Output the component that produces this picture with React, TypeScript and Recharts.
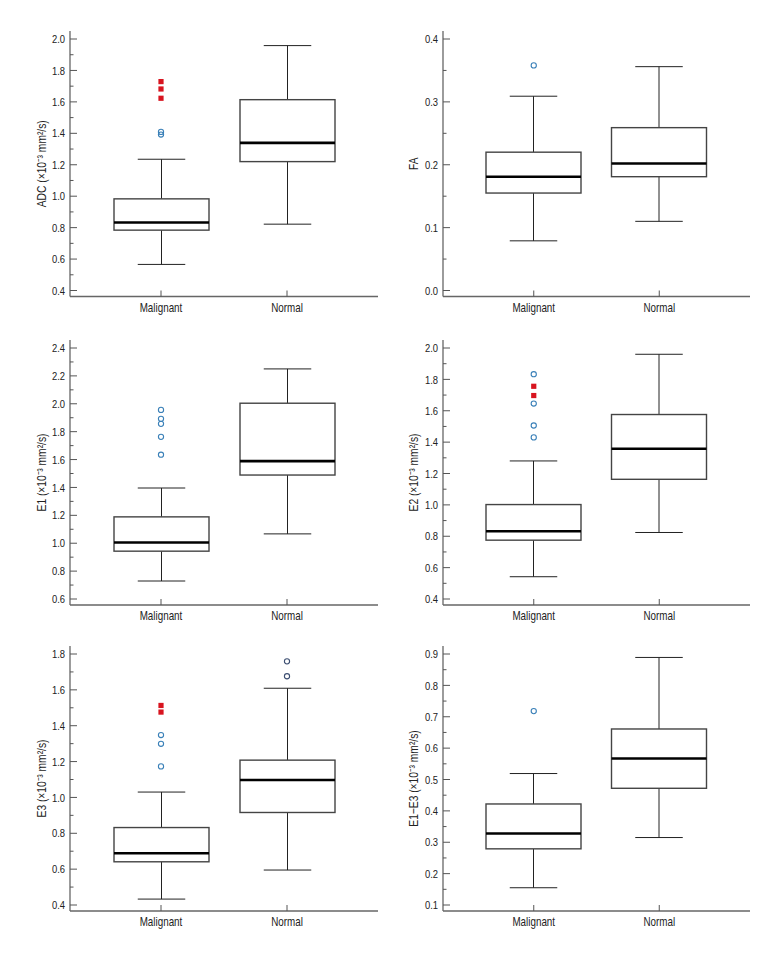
import React from 'react';
import { ComposedChart, Bar, Scatter, XAxis, YAxis } from 'recharts';

const categories = ['Malignant', 'Normal'];

// ADC
const adcMin = [0.566, 0.822];
const adcQ1 = [0.784, 1.22];
const adcMedian = [0.833, 1.339];
const adcQ3 = [0.983, 1.614];
const adcMax = [1.235, 1.958];
const adcMalignantCircles = [1.409, 1.392];
const adcMalignantSquares = [1.729, 1.682, 1.623];
const adcMajorTicks = [0.4, 0.6, 0.8, 1.0, 1.2, 1.4, 1.6, 1.8, 2.0];
const adcMinorTicks = [0.5, 0.7, 0.9, 1.1, 1.3, 1.5, 1.7, 1.9];

// FA
const faMin = [0.079, 0.11];
const faQ1 = [0.155, 0.181];
const faMedian = [0.181, 0.202];
const faQ3 = [0.22, 0.259];
const faMax = [0.309, 0.356];
const faMalignantCircles = [0.358];
const faMajorTicks = [0.0, 0.1, 0.2, 0.3, 0.4];
const faMinorTicks = [0.05, 0.15, 0.25, 0.35];

// E1
const e1Min = [0.729, 1.067];
const e1Q1 = [0.943, 1.489];
const e1Median = [1.005, 1.589];
const e1Q3 = [1.189, 2.004];
const e1Max = [1.396, 2.25];
const e1MalignantCircles = [1.956, 1.892, 1.856, 1.763, 1.635];
const e1MajorTicks = [0.6, 0.8, 1.0, 1.2, 1.4, 1.6, 1.8, 2.0, 2.2, 2.4];
const e1MinorTicks = [0.7, 0.9, 1.1, 1.3, 1.5, 1.7, 1.9, 2.1, 2.3];

// E2
const e2Min = [0.542, 0.824];
const e2Q1 = [0.775, 1.163];
const e2Median = [0.832, 1.358];
const e2Q3 = [1.002, 1.576];
const e2Max = [1.28, 1.96];
const e2MalignantCircles = [1.833, 1.646, 1.506, 1.43];
const e2MalignantSquares = [1.756, 1.697];
const e2MajorTicks = [0.4, 0.6, 0.8, 1.0, 1.2, 1.4, 1.6, 1.8, 2.0];
const e2MinorTicks = [0.5, 0.7, 0.9, 1.1, 1.3, 1.5, 1.7, 1.9];

// E3
const e3Min = [0.433, 0.595];
const e3Q1 = [0.641, 0.916];
const e3Median = [0.689, 1.097];
const e3Q3 = [0.832, 1.208];
const e3Max = [1.03, 1.609];
const e3MalignantSquares = [1.513, 1.476];
const e3MalignantCircles = [1.348, 1.299, 1.173];
const e3NormalCircles = [1.759, 1.676];
const e3MajorTicks = [0.4, 0.6, 0.8, 1.0, 1.2, 1.4, 1.6, 1.8];
const e3MinorTicks = [0.5, 0.7, 0.9, 1.1, 1.3, 1.5, 1.7];

// E1-E3
const diffMin = [0.155, 0.315];
const diffQ1 = [0.279, 0.472];
const diffMedian = [0.328, 0.567];
const diffQ3 = [0.422, 0.661];
const diffMax = [0.519, 0.889];
const diffMalignantCircles = [0.718];
const diffMajorTicks = [0.1, 0.2, 0.3, 0.4, 0.5, 0.6, 0.7, 0.8, 0.9];
const diffMinorTicks = [0.15, 0.25, 0.35, 0.45, 0.55, 0.65, 0.75, 0.85];

// Liberation Sans squeezed to ~Arial Narrow proportions
const FONT = '"Liberation Sans", Arial, sans-serif';
const SQUEEZE = 0.82;
const BLUE = '#3a80b8';
const NAVY = '#3d4f72';
const RED = '#d8141f';

interface BoxRow {
  name: string;
  min: number;
  q1: number;
  median: number;
  q3: number;
  max: number;
}

interface Outliers {
  name: string;
  values: number[];
  kind: 'circle' | 'square';
  color: string;
}

interface PanelConfig {
  label: string;
  rows: BoxRow[];
  major: number[];
  minor: number[];
  outliers: Outliers[];
}

const buildRows = (min: number[], q1: number[], median: number[], q3: number[], max: number[]): BoxRow[] =>
  categories.map((name, i) => ({ name, min: min[i], q1: q1[i], median: median[i], q3: q3[i], max: max[i] }));

const panels: PanelConfig[] = [
  {
    label: 'ADC (×10⁻³ mm²/s)',
    rows: buildRows(adcMin, adcQ1, adcMedian, adcQ3, adcMax),
    major: adcMajorTicks,
    minor: adcMinorTicks,
    outliers: [
      { name: 'Malignant', values: adcMalignantCircles, kind: 'circle', color: BLUE },
      { name: 'Malignant', values: adcMalignantSquares, kind: 'square', color: RED },
    ],
  },
  {
    label: 'FA',
    rows: buildRows(faMin, faQ1, faMedian, faQ3, faMax),
    major: faMajorTicks,
    minor: faMinorTicks,
    outliers: [{ name: 'Malignant', values: faMalignantCircles, kind: 'circle', color: BLUE }],
  },
  {
    label: 'E1 (×10⁻³ mm²/s)',
    rows: buildRows(e1Min, e1Q1, e1Median, e1Q3, e1Max),
    major: e1MajorTicks,
    minor: e1MinorTicks,
    outliers: [{ name: 'Malignant', values: e1MalignantCircles, kind: 'circle', color: BLUE }],
  },
  {
    label: 'E2 (×10⁻³ mm²/s)',
    rows: buildRows(e2Min, e2Q1, e2Median, e2Q3, e2Max),
    major: e2MajorTicks,
    minor: e2MinorTicks,
    outliers: [
      { name: 'Malignant', values: e2MalignantCircles, kind: 'circle', color: BLUE },
      { name: 'Malignant', values: e2MalignantSquares, kind: 'square', color: RED },
    ],
  },
  {
    label: 'E3 (×10⁻³ mm²/s)',
    rows: buildRows(e3Min, e3Q1, e3Median, e3Q3, e3Max),
    major: e3MajorTicks,
    minor: e3MinorTicks,
    outliers: [
      { name: 'Malignant', values: e3MalignantCircles, kind: 'circle', color: BLUE },
      { name: 'Malignant', values: e3MalignantSquares, kind: 'square', color: RED },
      { name: 'Normal', values: e3NormalCircles, kind: 'circle', color: NAVY },
    ],
  },
  {
    label: 'E1−E3 (×10⁻³ mm²/s)',
    rows: buildRows(diffMin, diffQ1, diffMedian, diffQ3, diffMax),
    major: diffMajorTicks,
    minor: diffMinorTicks,
    outliers: [{ name: 'Malignant', values: diffMalignantCircles, kind: 'circle', color: BLUE }],
  },
];

// box + whiskers drawn from the range bar [min, max] the library positions
const BoxShape = (props: any) => {
  const { x, y, width, height, payload } = props;
  const { min, q1, median, q3, max } = payload;
  const yOf = (v: number) => y + ((max - v) / (max - min)) * height;
  const cx = x + width / 2;
  const capL = x + width / 4;
  const capR = x + (width * 3) / 4;
  return (
    <g>
      <line x1={cx} x2={cx} y1={yOf(max)} y2={yOf(q3)} stroke="#222" strokeWidth={1} />
      <line x1={cx} x2={cx} y1={yOf(q1)} y2={yOf(min)} stroke="#222" strokeWidth={1} />
      <line x1={capL} x2={capR} y1={yOf(max)} y2={yOf(max)} stroke="#222" strokeWidth={1} />
      <line x1={capL} x2={capR} y1={yOf(min)} y2={yOf(min)} stroke="#222" strokeWidth={1} />
      <rect x={x} y={yOf(q3)} width={width} height={yOf(q1) - yOf(q3)} fill="#fff" stroke="#444" strokeWidth={1.4} />
      <line x1={x} x2={x + width} y1={yOf(median)} y2={yOf(median)} stroke="#000" strokeWidth={2.6} />
    </g>
  );
};

const YTick = ({ x, y, payload, major }: any) => {
  const isMajor = major.some((m: number) => Math.abs(m - payload.value) < 1e-9);
  return (
    <g>
      <line x1={x} x2={x + (isMajor ? 7 : 3.5)} y1={y} y2={y} stroke="#555" strokeWidth={1} />
      {isMajor && (
        <text
          transform={`translate(${x - 5},${y}) scale(${SQUEEZE},1)`}
          dy="0.36em"
          textAnchor="end"
          fontSize={11.5}
          fontFamily={FONT}
          fill="#222"
        >
          {payload.value.toFixed(1)}
        </text>
      )}
    </g>
  );
};

const XTick = ({ x, y, payload }: any) => (
  <g>
    <line x1={x} x2={x} y1={y} y2={y - 6} stroke="#555" strokeWidth={1} />
    <text
      transform={`translate(${x},${y + 15}) scale(${SQUEEZE},1)`}
      textAnchor="middle"
      fontSize={12}
      fontFamily={FONT}
      fill="#222"
    >
      {payload.value}
    </text>
  </g>
);

const makeYLabel = (shift: number) => (props: any) => {
  const { viewBox, value } = props;
  const cx = viewBox.x + viewBox.width / 2 + shift;
  const cy = viewBox.y + viewBox.height / 2;
  return (
    <text
      transform={`translate(${cx},${cy}) rotate(-90) scale(${SQUEEZE},1)`}
      dy="0.36em"
      textAnchor="middle"
      fontSize={12.5}
      fontFamily={FONT}
      fill="#222"
    >
      {value}
    </text>
  );
};

const OutlierShape = (kind: string, color: string) => (props: any) => {
  const { cx, cy } = props;
  if (kind === 'square') {
    return <rect x={cx - 2.6} y={cy - 2.6} width={5.2} height={5.2} fill={color} />;
  }
  return <circle cx={cx} cy={cy} r={2.6} fill="none" stroke={color} strokeWidth={1.1} />;
};

interface Frame {
  left: number;
  top: number;
  width: number;
  height: number;
  plotL: number;
  plotT: number;
  plotR: number;
  plotB: number;
  labelShift: number;
}

const BoxPanel: React.FC<{ cfg: PanelConfig; f: Frame }> = ({ cfg, f }) => {
  const ticks = [...cfg.major, ...cfg.minor].sort((a, b) => a - b);
  return (
    <div style={{ position: 'absolute', left: f.left - 8, top: f.top - 8 }}>
      <ComposedChart
        width={f.width}
        height={f.height}
        data={cfg.rows}
        margin={{ top: f.plotT - f.top, right: f.left + f.width - f.plotR, bottom: 0, left: 0 }}
      >
        <XAxis
          dataKey="name"
          type="category"
          allowDuplicatedCategory={false}
          padding={{ left: 28, right: 28 }}
          height={f.top + f.height - f.plotB}
          tickSize={0}
          tickMargin={0}
          tickLine={false}
          tick={<XTick />}
          axisLine={{ stroke: '#666', strokeWidth: 1.3 }}
        />
        <XAxis
          xAxisId="top"
          dataKey="name"
          orientation="top"
          allowDuplicatedCategory={false}
          height={0}
          tick={false}
          tickLine={false}
          axisLine={{ stroke: '#777', strokeWidth: 1.3 }}
        />
        <YAxis
          type="number"
          domain={[cfg.major[0], cfg.major[cfg.major.length - 1]]}
          ticks={ticks}
          interval={0}
          allowDataOverflow
          padding={{ top: 8, bottom: 6 }}
          width={f.plotL - f.left}
          tickSize={0}
          tickMargin={0}
          tickLine={false}
          tick={<YTick major={cfg.major} />}
          axisLine={{ stroke: '#666', strokeWidth: 1.3 }}
          label={{ value: cfg.label, position: 'center', content: makeYLabel(f.labelShift) }}
        />
        <YAxis
          yAxisId="right"
          type="number"
          orientation="right"
          domain={[0, 1]}
          width={0}
          tick={false}
          tickLine={false}
          axisLine={{ stroke: '#777', strokeWidth: 1.3 }}
        />
        <Bar dataKey={(d: BoxRow) => [d.min, d.max]} barSize={95} shape={BoxShape} isAnimationActive={false} />
        {cfg.outliers.map((o, i) => (
          <Scatter
            key={i}
            data={o.values.map((value) => ({ name: o.name, value }))}
            dataKey="value"
            shape={OutlierShape(o.kind, o.color)}
            isAnimationActive={false}
          />
        ))}
      </ComposedChart>
    </div>
  );
};

const colLeft = [8, 390];
const plotLeft = [70, 443];
const plotRight = [378, 750];
const labelShift = [2, -3];
const rowTop = [8, 318, 628];
const plotTop = [31, 340, 646];
const plotBottom = [296.5, 605, 911];

export default function App() {
  return (
    <div style={{ position: 'relative', width: 764, height: 944, background: '#fff' }}>
      {panels.map((cfg, i) => {
        const r = Math.floor(i / 2);
        const c = i % 2;
        const f: Frame = {
          left: colLeft[c],
          top: rowTop[r],
          width: 382,
          height: 310,
          plotL: plotLeft[c],
          plotT: plotTop[r],
          plotR: plotRight[c],
          plotB: plotBottom[r],
          labelShift: labelShift[c],
        };
        return <BoxPanel key={i} cfg={cfg} f={f} />;
      })}
    </div>
  );
}
